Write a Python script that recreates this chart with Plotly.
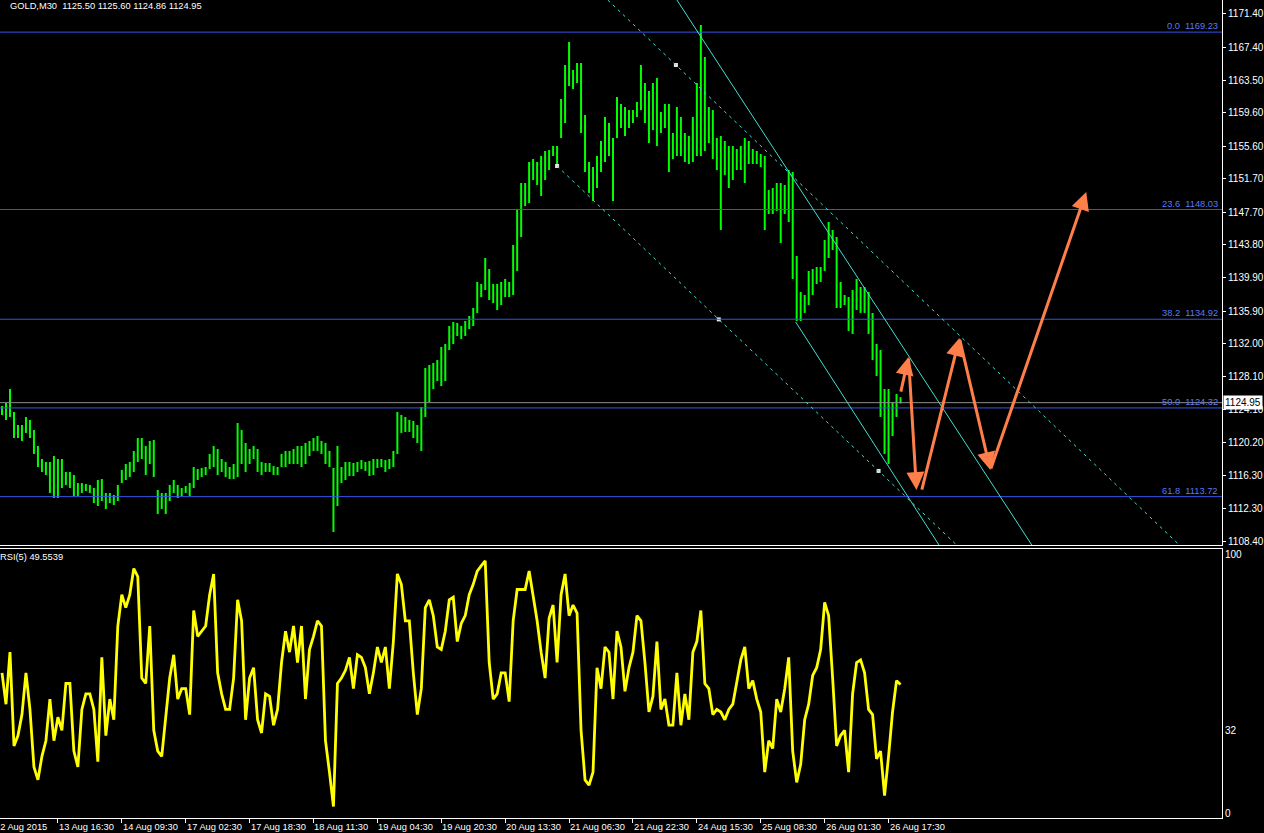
import plotly.graph_objects as go

# ---------------- data ----------------
bar_high = [1124.55, 1124.91, 1126.58, 1123.84, 1122.28, 1122.28, 1123.24, 1122.88, 1121.68, 1119.77,
            1118.22, 1117.86, 1117.86, 1118.58, 1118.22, 1118.22, 1116.67, 1116.67, 1116.31, 1115.35,
            1115.35, 1115.23, 1115.11, 1114.75, 1115.71, 1115.83, 1114.16, 1114.16, 1113.92, 1115.11,
            1116.90, 1117.62, 1117.86, 1119.18, 1120.73, 1120.73, 1119.77, 1120.37, 1120.49, 1114.51,
            1114.16, 1114.16, 1115.11, 1115.71, 1115.11, 1114.75, 1114.99, 1115.35, 1117.26, 1117.02,
            1117.14, 1117.26, 1118.82, 1119.77, 1119.41, 1118.22, 1117.86, 1117.26, 1117.62, 1122.52,
            1121.68, 1120.13, 1119.41, 1119.77, 1119.41, 1117.86, 1117.74, 1117.74, 1117.38, 1117.26,
            1118.82, 1119.18, 1119.18, 1119.41, 1119.77, 1119.77, 1120.13, 1120.37, 1120.73, 1120.97,
            1120.37, 1120.13, 1119.18, 1117.14, 1119.77, 1117.26, 1117.86, 1117.86, 1117.74, 1117.86,
            1118.10, 1117.86, 1117.98, 1118.22, 1118.22, 1118.22, 1118.10, 1118.22, 1119.18, 1123.84,
            1123.48, 1123.24, 1122.88, 1122.76, 1122.28, 1124.43, 1129.09, 1129.45, 1129.69, 1130.05,
            1131.60, 1131.96, 1134.11, 1134.59, 1134.47, 1134.11, 1134.71, 1135.31, 1136.26, 1139.37,
            1139.13, 1142.24, 1140.92, 1139.13, 1139.13, 1139.37, 1139.73, 1139.37, 1143.79, 1148.09,
            1151.20, 1151.20, 1153.71, 1154.07, 1153.71, 1154.43, 1155.03, 1155.14, 1155.62, 1155.62,
            1161.24, 1165.30, 1168.05, 1164.70, 1165.54, 1165.54, 1159.33, 1153.71, 1153.11, 1154.43,
            1156.22, 1159.09, 1158.37, 1156.58, 1161.48, 1160.64, 1160.28, 1159.92, 1159.92, 1160.88,
            1165.30, 1163.15, 1162.20, 1163.15, 1163.75, 1159.69, 1160.64, 1160.64, 1157.18, 1160.28,
            1159.09, 1157.18, 1156.82, 1159.09, 1163.15, 1170.08, 1166.26, 1160.28, 1159.92, 1156.58,
            1156.82, 1156.22, 1155.62, 1155.62, 1155.26, 1155.62, 1156.58, 1156.22, 1155.26, 1155.03,
            1154.67, 1154.43, 1150.36, 1150.60, 1151.20, 1151.20, 1150.96, 1152.75, 1152.52, 1142.48,
            1138.18, 1137.82, 1140.69, 1140.92, 1141.16, 1141.16, 1144.39, 1146.54, 1145.58, 1144.75,
            1139.37, 1137.82, 1137.58, 1138.41, 1139.73, 1138.77, 1138.77, 1138.18, 1135.67, 1131.96,
            1131.24, 1126.58, 1126.58, 1125.03, 1125.99, 1125.60]

bar_low = [1123.48, 1122.88, 1123.24, 1120.73, 1120.73, 1120.37, 1121.33, 1120.73, 1118.82, 1117.26,
           1116.67, 1116.31, 1114.16, 1113.56, 1113.56, 1114.75, 1115.11, 1114.75, 1113.80, 1113.80,
           1114.16, 1114.40, 1114.16, 1112.96, 1112.60, 1113.20, 1112.24, 1112.96, 1112.72, 1113.20,
           1115.35, 1115.71, 1116.07, 1116.67, 1117.86, 1118.22, 1116.31, 1117.62, 1116.07, 1111.65,
           1112.24, 1111.65, 1113.20, 1114.16, 1113.56, 1113.80, 1114.16, 1113.80, 1114.75, 1115.71,
           1116.07, 1116.31, 1117.02, 1117.26, 1116.31, 1116.67, 1116.07, 1115.83, 1115.83, 1116.07,
           1117.62, 1116.67, 1117.62, 1118.22, 1116.67, 1116.31, 1116.67, 1116.67, 1116.31, 1116.31,
           1117.26, 1117.26, 1117.62, 1117.62, 1117.62, 1117.26, 1117.62, 1118.58, 1119.18, 1119.18,
           1118.82, 1117.62, 1117.26, 1109.50, 1112.60, 1115.35, 1115.71, 1116.19, 1116.19, 1116.67,
           1117.02, 1116.79, 1116.19, 1116.31, 1117.14, 1117.26, 1116.67, 1117.02, 1117.26, 1118.82,
           1121.33, 1121.45, 1121.45, 1120.73, 1120.13, 1119.18, 1123.24, 1125.03, 1126.58, 1127.54,
           1126.94, 1127.54, 1131.24, 1131.96, 1132.92, 1132.56, 1132.92, 1133.75, 1134.11, 1135.67,
           1137.58, 1138.41, 1137.22, 1136.86, 1136.02, 1136.62, 1137.58, 1137.58, 1137.82, 1140.69,
           1144.75, 1148.45, 1148.81, 1151.56, 1150.96, 1149.65, 1151.56, 1152.75, 1154.43, 1153.11,
           1156.58, 1158.37, 1162.79, 1162.43, 1163.15, 1157.18, 1152.52, 1150.01, 1149.05, 1150.60,
           1152.52, 1153.71, 1154.43, 1149.05, 1156.58, 1157.77, 1156.82, 1157.77, 1158.37, 1159.09,
           1159.92, 1158.37, 1155.98, 1157.53, 1155.62, 1157.18, 1157.77, 1152.52, 1154.07, 1154.43,
           1154.43, 1153.71, 1153.47, 1153.71, 1154.43, 1154.43, 1155.03, 1155.98, 1154.07, 1152.75,
           1145.58, 1152.16, 1150.60, 1151.56, 1152.75, 1152.75, 1151.20, 1153.47, 1153.47, 1153.47,
           1153.11, 1145.58, 1147.50, 1147.50, 1147.86, 1144.03, 1147.50, 1146.54, 1139.73, 1134.71,
           1134.71, 1135.67, 1136.62, 1137.82, 1139.13, 1139.37, 1140.69, 1142.24, 1143.19, 1136.26,
           1136.26, 1136.62, 1133.52, 1133.16, 1136.02, 1135.67, 1135.67, 1133.16, 1130.05, 1128.14,
           1123.24, 1118.82, 1117.62, 1120.97, 1123.24, 1124.86]

rsi = [54.1, 42.0, 62.1, 25.9, 29.9, 38.0, 54.1, 40.0, 17.8, 12.8,
       21.9, 27.9, 44.0, 27.9, 37.0, 31.9, 50.0, 50.0, 23.9, 17.8,
       40.0, 46.0, 46.0, 40.0, 19.8, 60.1, 29.9, 44.0, 36.0, 72.2,
       84.3, 79.3, 84.3, 94.4, 91.3, 52.1, 50.0, 72.2, 31.9, 23.9,
       21.9, 36.0, 52.1, 61.1, 44.0, 48.0, 48.0, 38.0, 78.2, 68.2,
       70.2, 72.2, 84.3, 92.3, 54.1, 46.0, 40.0, 40.0, 52.1, 82.3,
       74.2, 36.0, 52.1, 56.1, 36.0, 30.9, 46.0, 45.0, 33.9, 40.0,
       58.1, 70.2, 62.1, 72.2, 58.1, 72.2, 44.0, 63.1, 68.2, 74.2,
       72.2, 27.9, 15.8, 2.5, 50.0, 52.1, 55.1, 60.1, 48.0, 61.1,
       60.1, 56.1, 46.0, 54.1, 64.1, 58.1, 64.1, 48.0, 66.2, 92.3,
       88.3, 74.2, 74.2, 54.1, 38.0, 48.0, 79.3, 82.3, 76.2, 64.1,
       63.1, 70.2, 82.3, 83.3, 66.2, 73.2, 76.2, 84.3, 88.3, 93.4,
       95.4, 97.4, 58.1, 44.0, 46.0, 54.1, 54.1, 43.0, 74.2, 86.3,
       86.3, 86.3, 93.4, 83.3, 74.2, 62.1, 52.1, 75.2, 80.3, 58.1,
       84.3, 92.3, 76.2, 80.3, 77.2, 31.9, 12.8, 10.8, 15.8, 56.1,
       48.0, 64.1, 62.1, 44.0, 70.2, 64.1, 47.0, 56.1, 62.1, 76.2,
       74.2, 58.1, 39.0, 45.0, 66.2, 40.0, 44.0, 33.9, 33.9, 54.1,
       33.9, 46.0, 36.0, 62.1, 66.2, 78.2, 50.0, 48.0, 38.0, 40.0,
       39.0, 36.0, 40.0, 42.0, 50.0, 59.1, 64.1, 48.0, 51.1, 44.0,
       39.0, 15.8, 27.9, 24.9, 44.0, 39.0, 48.0, 60.1, 23.9, 11.8,
       18.8, 36.0, 42.0, 53.1, 56.1, 63.1, 81.3, 76.2, 52.1, 25.9,
       29.9, 31.9, 15.8, 46.0, 58.1, 59.1, 54.1, 40.0, 38.0, 20.9,
       23.9, 6.7, 21.9, 39.0, 51.1, 49.6]

price_ticks = [1171.40, 1167.40, 1163.50, 1159.60, 1155.60, 1151.70, 1147.70, 1143.80, 1139.90,
               1135.90, 1132.00, 1128.10, 1124.10, 1120.20, 1116.30, 1112.30, 1108.40]
rsi_ticks = [100, 32, 0]

date_labels = ["12 Aug 2015", "13 Aug 16:30", "14 Aug 09:30", "17 Aug 02:30", "17 Aug 18:30",
               "18 Aug 11:30", "19 Aug 04:30", "19 Aug 20:30", "20 Aug 13:30", "21 Aug 06:30",
               "21 Aug 22:30", "24 Aug 15:30", "25 Aug 08:30", "26 Aug 01:30", "26 Aug 17:30"]
date_bar_index = [-2, 14, 30, 46, 62, 78, 94, 110, 126, 142, 158, 174, 190, 206, 222]

fib_levels = [1169.23, 1148.03, 1134.92, 1124.32, 1113.72]
fib_names = ["0.0", "23.6", "38.2", "50.0", "61.8"]
last_price = 1124.95
header_text = "GOLD,M30  1125.50 1125.60 1124.86 1124.95"
rsi_text = "RSI(5) 49.5539"

# drawn objects, in (bar index, price)
solid_trend = [(160, 1179.67, 270, 1099.05), (198.75, 1134.59, 262, 1087.6)]
dashed_trend = [(139, 1178.84, 300, 1105.58), (139, 1153.23, 262, 1097.55)]
anchor_x = [139, 168.75, 179.5, 219.5]
anchor_y = [1153.23, 1165.30, 1134.9, 1116.79]

arrow_from_x = [225, 227, 230.25, 239.75, 247.5]
arrow_from_y = [1126.09, 1130.40, 1114.38, 1132.67, 1116.89]
arrow_to_x = [227, 229, 239.75, 247.5, 271.5]
arrow_to_y = [1130.40, 1114.50, 1132.67, 1116.89, 1150.12]

# ---------------- figure ----------------
FONT = "Liberation Sans, Arial, sans-serif"
BLUE_LINE = "#3455ea"
BLUE_TEXT = "#5a7af5"
CYAN = "#40e0d0"
X_RANGE = [-0.5, 305.5]
MAIN_DOM = [0.33374, 1.0]
RSI_DOM = [0.0, 0.32885]


def to_paper_x(v):
    return (v - X_RANGE[0]) / (X_RANGE[1] - X_RANGE[0])


bx, by = [], []
for i, (h, l) in enumerate(zip(bar_high, bar_low)):
    bx += [i, i, None]
    by += [l, h, None]

fig = go.Figure()
fig.add_trace(go.Scatter(x=bx, y=by, mode="lines", line=dict(color="#00ff00", width=2),
                         xaxis="x", yaxis="y", hoverinfo="skip", showlegend=False))
fig.add_trace(go.Scatter(x=list(range(len(rsi))), y=rsi, mode="lines",
                         line=dict(color="#ffff00", width=2.8),
                         xaxis="x2", yaxis="y2", showlegend=False))
fig.add_trace(go.Scatter(x=anchor_x, y=anchor_y, mode="markers",
                         marker=dict(symbol="square", size=4, color="#e8e8e8"),
                         xaxis="x", yaxis="y", showlegend=False))

shapes = []
for lv in fib_levels:
    shapes.append(dict(type="line", xref="paper", x0=0, x1=1, yref="y", y0=lv, y1=lv,
                       line=dict(color=BLUE_LINE, width=1)))
shapes.append(dict(type="line", xref="paper", x0=0, x1=1, yref="y", y0=last_price, y1=last_price,
                   line=dict(color="#8c8c8c", width=1)))
for x0, y0, x1, y1 in solid_trend:
    shapes.append(dict(type="line", xref="x", yref="y", x0=x0, y0=y0, x1=x1, y1=y1,
                       line=dict(color=CYAN, width=1)))
for x0, y0, x1, y1 in dashed_trend:
    shapes.append(dict(type="line", xref="x", yref="y", x0=x0, y0=y0, x1=x1, y1=y1,
                       line=dict(color=CYAN, width=1, dash="3px,4px")))

ann = []
ann.append(dict(text=header_text, xref="paper", yref="paper", x=0, y=1, xanchor="left",
                yanchor="top", xshift=8, yshift=1, showarrow=False,
                font=dict(family=FONT, size=9.3, color="#ffffff")))
ann.append(dict(text=rsi_text, xref="paper", yref="paper", x=0, y=RSI_DOM[1], xanchor="left",
                yanchor="top", xshift=-2, yshift=-1, showarrow=False,
                font=dict(family=FONT, size=9.3, color="#ffffff")))
for nm, lv in zip(fib_names, fib_levels):
    ann.append(dict(text=f"{nm}  {lv:.2f}", xref="paper", yref="y", x=1, y=lv,
                    xanchor="right", yanchor="bottom", xshift=-2, yshift=-1, showarrow=False,
                    font=dict(family=FONT, size=9.3, color=BLUE_TEXT)))
ann.append(dict(text=f"{last_price:.2f}", xref="paper", yref="y", x=1, y=last_price,
                xanchor="left", yanchor="middle", xshift=1, showarrow=False,
                bgcolor="#ffffff", borderpad=1,
                font=dict(family=FONT, size=10, color="#000000")))
for lab, pos in zip(date_labels, date_bar_index):
    ann.append(dict(text=lab, xref="paper", yref="paper", x=to_paper_x(pos), y=0, xanchor="left",
                    yanchor="top", xshift=-1, yshift=-2, showarrow=False,
                    font=dict(family=FONT, size=9.3, color="#ffffff")))
for fx, fy, tx, ty in zip(arrow_from_x, arrow_from_y, arrow_to_x, arrow_to_y):
    ann.append(dict(text="", xref="x", yref="y", axref="x", ayref="y", x=tx, y=ty, ax=fx, ay=fy,
                    showarrow=True, arrowhead=2, arrowsize=1.2, arrowwidth=3,
                    arrowcolor="#ff7f4a", standoff=0, startstandoff=0))

axis_font = dict(family=FONT, size=10, color="#ffffff")
fig.update_layout(
    width=1264, height=833, autosize=False,
    margin=dict(l=0, r=40, t=0, b=15, pad=0),
    paper_bgcolor="#000000", plot_bgcolor="#000000",
    showlegend=False,
    shapes=shapes, annotations=ann,
    xaxis=dict(domain=[0, 1], range=X_RANGE, anchor="y", showgrid=False, zeroline=False,
               showticklabels=False, ticks="", showline=True, linecolor="#ffffff", linewidth=1),
    yaxis=dict(domain=MAIN_DOM, range=[1107.94, 1173.07], side="right", anchor="x",
               tickvals=price_ticks, ticktext=[f"{v:.2f}" for v in price_ticks],
               ticks="outside", ticklen=3, tickcolor="#ffffff", tickfont=axis_font,
               showline=True, linecolor="#ffffff", linewidth=1, showgrid=False, zeroline=False),
    xaxis2=dict(domain=[0, 1], range=X_RANGE, anchor="y2", showgrid=False, zeroline=False,
                tickvals=date_bar_index, showticklabels=False, ticks="outside", ticklen=4,
                tickcolor="#ffffff", showline=True, mirror=True, linecolor="#ffffff", linewidth=1),
    yaxis2=dict(domain=RSI_DOM, range=[-1.93, 101.93], side="right", anchor="x2",
                tickvals=rsi_ticks, ticktext=[str(v) for v in rsi_ticks], ticks="",
                tickfont=axis_font, showline=True, linecolor="#ffffff", linewidth=1,
                showgrid=False, zeroline=False),
)

fig.write_html("out.html", config={"displayModeBar": False},
               post_script="document.body.style.margin='0';document.body.style.overflow='hidden';")
